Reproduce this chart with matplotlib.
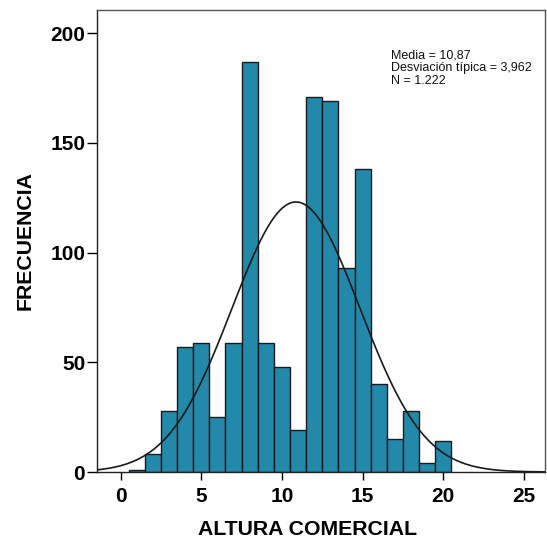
import numpy as np
import matplotlib
matplotlib.use("Agg")
import matplotlib.pyplot as plt

# Frequency table of commercial height (bin width 1)
bin_edges = [0.5, 1.5, 2.5, 3.5, 4.5, 5.5, 6.5, 7.5, 8.5, 9.5, 10.5,
             11.5, 12.5, 13.5, 14.5, 15.5, 16.5, 17.5, 18.5, 19.5, 20.5]
counts = [1, 8, 28, 57, 59, 25, 59, 187, 59, 48, 19,
          171, 169, 93, 138, 40, 15, 28, 4, 14]

mean = 10.87
std = 3.962
n_obs = 1222

x_ticks = [0, 5, 10, 15, 20, 25]
y_ticks = [0, 50, 100, 150, 200]

plt.rcParams['font.family'] = ['Liberation Sans', 'DejaVu Sans']

fig = plt.figure(figsize=(5.47, 5.43), dpi=100)
ax = fig.add_axes([97 / 547, 1 - 472 / 543, 448 / 547, 462 / 543])

edges = np.array(bin_edges)
ax.bar(edges[:-1], counts, width=np.diff(edges), align='edge',
       color='#2389AA', edgecolor='#1a1a1a', linewidth=1.0, zorder=2)

# Normal curve scaled to counts
xlim = (-1.46, 26.3)
xs = np.linspace(xlim[0], xlim[1], 400)
bw = edges[1] - edges[0]
ys = n_obs * bw / (std * np.sqrt(2 * np.pi)) * np.exp(-0.5 * ((xs - mean) / std) ** 2)
ax.plot(xs, ys, color='#1a1a1a', linewidth=1.2, zorder=3)

ax.set_xlim(*xlim)
ax.set_ylim(0, 210.5)
ax.set_xticks(x_ticks)
ax.set_yticks(y_ticks)
ax.tick_params(axis='x', length=6, width=1, pad=5, labelsize=15)
ax.tick_params(axis='y', length=7.5, width=1, pad=1, labelsize=15)
for lab in ax.get_xticklabels() + ax.get_yticklabels():
    lab.set_fontweight('bold')

for sp in ax.spines.values():
    sp.set_color('#555555')
    sp.set_linewidth(1.0)
ax.spines['left'].set_color('#222222')
ax.spines['bottom'].set_color('#222222')

ax.set_xlabel('ALTURA COMERCIAL', fontsize=15.3, fontweight='bold')
ax.xaxis.set_label_coords(0.469, -0.104)
ax.set_ylabel('FRECUENCIA', fontsize=15.3, fontweight='bold', labelpad=11)

stats_text = ("Media = 10,87\n"
              "Desviación típica = 3,962\n"
              "N = 1.222")
fig.text(391 / 547, 1 - 49 / 543, stats_text, fontsize=9, va='top', ha='left',
         linespacing=1.12, color='#111111')

fig.savefig('out.png', dpi=100)
